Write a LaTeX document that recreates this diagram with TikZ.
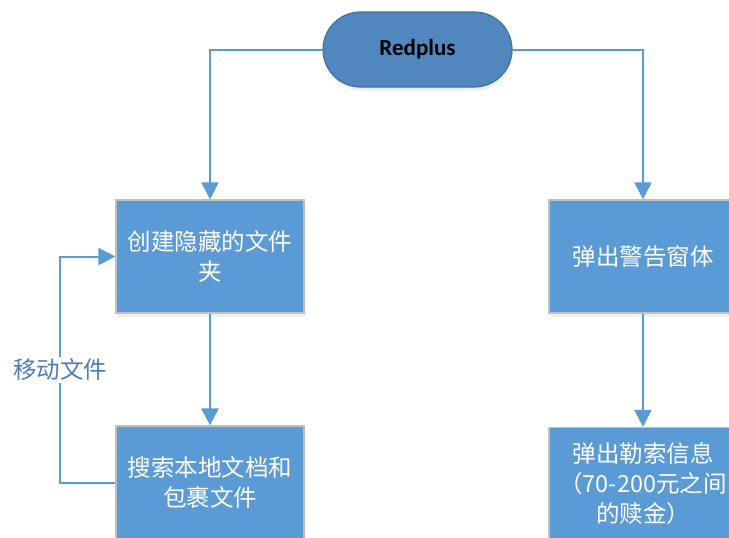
\documentclass[tikz,border=0pt]{standalone}
\usepackage{fontspec}
\newfontfamily\cjk{Noto Sans CJK SC}
\newfontfamily\calib{Carlito}
\usetikzlibrary{arrows.meta,shadows,shapes.misc}
\definecolor{boxblue}{HTML}{5B9BD5}
\definecolor{topblue}{HTML}{4F87BE}
\definecolor{topedge}{HTML}{41719C}
\definecolor{boxedge}{HTML}{BFBFBF}
\definecolor{linkblue}{HTML}{5B9BD5}
\definecolor{labelblue}{HTML}{4A7EBB}
\tikzset{
  stepbox/.style={draw=boxedge, line width=1.2pt, fill=boxblue, minimum width=188pt, minimum height=113pt,
    inner sep=0pt, align=center, text width=184pt, text=white,
    font=\cjk\fontsize{23.5}{30}\selectfont,
    drop shadow={opacity=0.12, shadow xshift=2pt, shadow yshift=-4pt}},
  startnode/.style={draw=topedge, line width=1.2pt, fill=topblue, rounded rectangle, minimum width=189pt, minimum height=75pt,
    inner sep=0pt, font=\calib\bfseries\fontsize{23}{26}\selectfont, text=black,
    drop shadow={opacity=0.12, shadow xshift=1pt, shadow yshift=-4pt}},
  link/.style={draw=linkblue, line width=2pt, -{Triangle[length=17pt,width=17pt]}},
  looplabel/.style={fill=white, text=labelblue, inner sep=2pt, font=\cjk\fontsize{23.5}{28}\selectfont}
}
\begin{document}
\begin{tikzpicture}[x=1pt,y=-1pt]
\useasboundingbox (0,0) rectangle (729,538);
\node[startnode] (top) at (417.5,49.5) {Redplus};
\node[stepbox] (b1) at (210,256.5) {创建隐藏的文件\\夹};
\node[stepbox] (b2) at (210,482.5) {搜索本地文档和\\包裹文件};
\node[stepbox] (c1) at (643,256.5) {弹出警告窗体};
\node[stepbox] (c2) at (643,484) {弹出勒索信息\\（70-200元之间\\的赎金）};
\draw[link] (top.west) -| (b1.north);
\draw[link] (top.east) -| (c1.north);
\draw[link] (b1.south) -- (b2.north);
\draw[link] (c1.south) -- (c2.north);
\coordinate (lp) at (60,482.5);
\draw[link] (b2.west) -- (lp) |- (b1.west);
\node[looplabel] (lbl) at (60,370) {移动文件};
\end{tikzpicture}
\end{document}
